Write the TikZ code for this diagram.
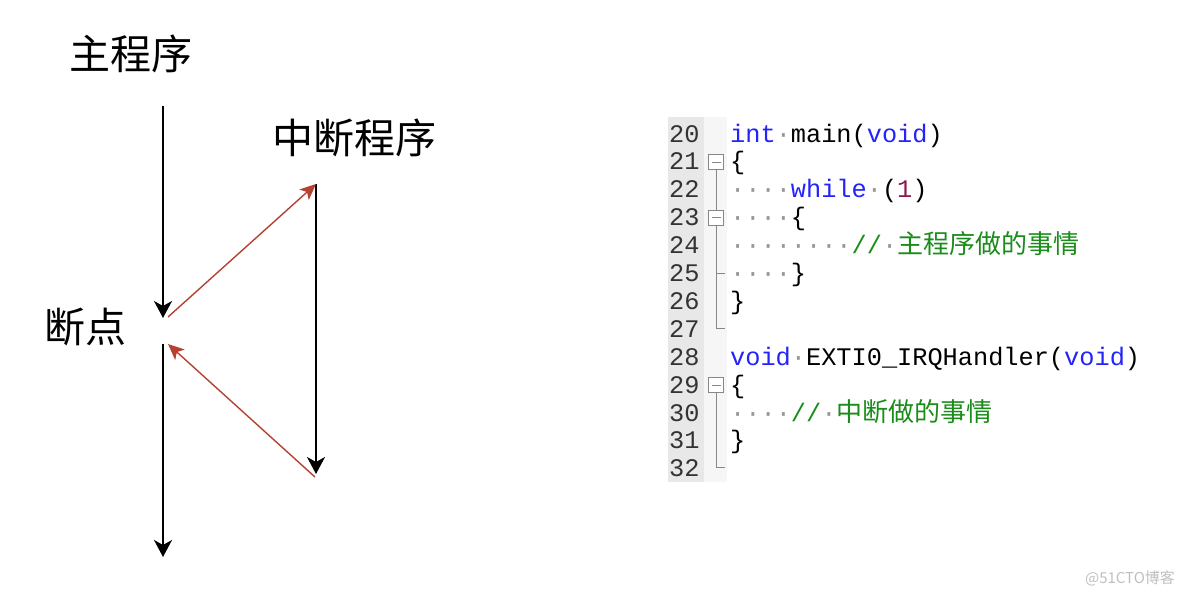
\documentclass[tikz,border=0pt]{standalone}
\usepackage{fontspec}
\setmonofont{Liberation Mono}
\newfontfamily\cjk{Noto Sans CJK SC}
\usetikzlibrary{arrows.meta}

\definecolor{kwblue}{RGB}{35,35,250}
\definecolor{cmtgreen}{RGB}{25,140,25}
\definecolor{numred}{RGB}{140,25,75}
\definecolor{callred}{RGB}{180,65,50}
\definecolor{dotgray}{RGB}{150,150,150}
\definecolor{gutter}{RGB}{232,232,232}
\definecolor{foldbg}{RGB}{246,246,246}
\definecolor{foldline}{RGB}{135,135,135}

\newcommand{\kw}[1]{\textcolor{kwblue}{#1}}
\newcommand{\dt}{\textcolor{dotgray}{·}}
\newcommand{\cmt}[1]{\textcolor{cmtgreen}{//}\dt\textcolor{cmtgreen}{\cjk\fontsize{26}{28}\selectfont #1}}

\begin{document}
\begin{tikzpicture}[x=1pt,y=-1pt,
    lbl/.style={font=\cjk\fontsize{41}{41}\selectfont, inner sep=0},
    flow/.style={draw, line width=1.7pt, -{Stealth[length=17pt,width=18pt,inset=5pt]}},
    call/.style={draw=callred, line width=1.4pt, -{Stealth[length=16pt,width=14pt,inset=4pt]}},
    lnum/.style={font=\ttfamily\fontsize{25.3}{28}\selectfont, text=black!80, inner sep=0, anchor=base west},
    code/.style={font=\ttfamily\fontsize{25.3}{28}\selectfont, inner sep=0, anchor=base west},
    foldbox/.style={draw=foldline, fill=white, line width=0.9pt, minimum size=15pt, inner sep=0,
      path picture={\draw[foldline, line width=0.9pt] ([xshift=3pt]path picture bounding box.west) -- ([xshift=-3pt]path picture bounding box.east);}},
    foldln/.style={draw=foldline, line width=0.9pt}]

  \useasboundingbox (0,0) rectangle (1184,595);

  % left: main program and interrupt
  \node[lbl] (main) at (131,54)  {主程序};
  \node[lbl] (isr)  at (354,138) {中断程序};
  \node[lbl] (bp)   at (85,327)  {断点};

  \coordinate (mainTop) at (163,106);
  \coordinate (bpIn)    at (163,318);
  \coordinate (bpOut)   at (163,344);
  \coordinate (mainEnd) at (163,557);
  \coordinate (jumpA)   at (168,317);
  \coordinate (isrTop)  at (316,184);
  \coordinate (isrEnd)  at (316,474);
  \coordinate (backA)   at (315,477);
  \coordinate (backB)   at (168,344);

  \path[flow] (mainTop) -- (bpIn);
  \path[flow] (bpOut) -- (mainEnd);
  \path[flow] (isrTop) -- (isrEnd);
  \path[call] (jumpA) -- (isrTop);
  \path[call] (backA) -- (backB);

  % right: code listing
  \fill[gutter] (668,117) rectangle (704,482);
  \fill[foldbg] (704,117) rectangle (727,482);

  \foreach \n in {20,...,32}
    \node[lnum] (ln\n) at (669,{142+(\n-20)*27.9}) {\n};

  \node[code] (c20) at (730,142.0) {\kw{int}\dt main(\kw{void})};
  \node[code] (c21) at (730,169.9) {\{};
  \node[code] (c22) at (730,197.8) {\dt\dt\dt\dt\kw{while}\dt(\textcolor{numred}{1})};
  \node[code] (c23) at (730,225.7) {\dt\dt\dt\dt\{};
  \node[code] (c24) at (730,253.6) {\dt\dt\dt\dt\dt\dt\dt\dt\cmt{主程序做的事情}};
  \node[code] (c25) at (730,281.5) {\dt\dt\dt\dt\}};
  \node[code] (c26) at (730,309.4) {\}};
  \node[code] (c28) at (730,365.2) {\kw{void}\dt EXTI0\_IRQHandler(\kw{void})};
  \node[code] (c29) at (730,393.1) {\{};
  \node[code] (c30) at (730,421.0) {\dt\dt\dt\dt\cmt{中断做的事情}};
  \node[code] (c31) at (730,448.9) {\}};

  % fold markers
  \node[foldbox] (f21) at (716,162.0) {};
  \node[foldbox] (f23) at (716,217.8) {};
  \node[foldbox] (f29) at (716,385.2) {};
  \coordinate (e25) at (725,273.0);
  \coordinate (e27) at (725,328.0);
  \coordinate (e32) at (725,467.5);

  \path[foldln] (f21.south) -- (f23.north);
  \path[foldln] (f23.south) |- (e27);
  \path[foldln] (e25 -| f23.center) -- (e25);
  \path[foldln] (f29.south) |- (e32);

  \node[font=\cjk\fontsize{15}{15}\selectfont, text=black!25, inner sep=0] (wm) at (1130,578) {@51CTO博客};

\end{tikzpicture}
\end{document}
